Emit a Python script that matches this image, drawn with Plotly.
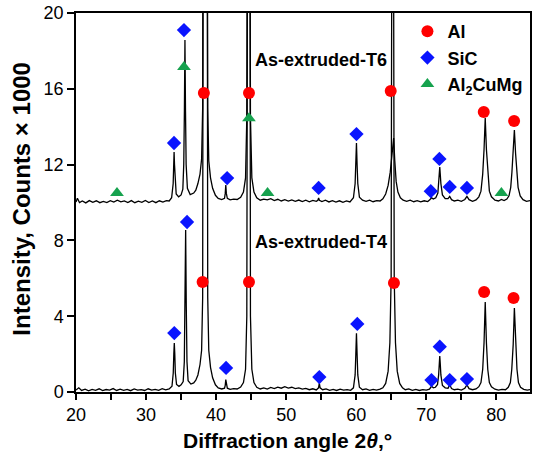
import plotly.graph_objects as go

# ---------------- data ----------------
# As-extruded-T4 diffraction profile (2theta in degrees, counts x1000)
t4_angle = [20.0, 20.4, 20.8, 21.3, 21.8, 22.3, 22.8, 23.3, 23.8, 24.3, 24.8, 25.3, 25.8, 26.3, 26.8,
            27.3, 27.8, 28.3, 28.8, 29.3, 29.8, 30.3, 30.8, 31.3, 31.8, 32.3, 32.8, 33.3,
            33.7, 33.88, 33.96, 34.03, 34.10, 34.18, 34.35, 34.7, 35.0,
            35.3, 35.46, 35.56, 35.65, 35.74, 35.84, 36.0, 36.4, 36.8, 37.1, 37.4, 37.7, 37.93,
            38.08, 38.16, 38.44, 38.72, 38.80, 38.95, 39.2, 39.5, 39.9, 40.3, 40.8, 41.2,
            41.30, 41.38, 41.46, 41.6, 42.0, 42.5, 43.0, 43.5, 43.9, 44.2,
            44.38, 44.46, 44.64, 44.82, 44.90, 45.1, 45.4, 45.8, 46.3, 46.8, 47.3, 47.8, 48.3,
            48.8, 49.3, 49.8, 50.3, 50.8, 51.3, 51.8, 52.3, 52.8, 53.3, 53.8, 54.3,
            54.62, 54.73, 54.84, 55.2, 55.7, 56.2, 56.7, 57.2, 57.7, 58.2, 58.7, 59.2,
            59.6, 59.84, 59.94, 60.03, 60.12, 60.22, 60.45, 60.9, 61.4, 61.9, 62.4, 62.9, 63.4,
            63.8, 64.2, 64.55, 64.8, 64.98, 65.08, 65.2, 65.32, 65.42, 65.6, 65.85, 66.2, 66.6,
            67.0, 67.5, 68.0, 68.5, 69.0, 69.5, 70.0, 70.45, 70.74, 71.0, 71.3,
            71.6, 71.76, 71.85, 71.92, 71.99, 72.08, 72.3, 72.7, 73.1, 73.34, 73.6, 74.0, 74.5,
            75.0, 75.5, 75.8, 76.1, 76.6, 77.1, 77.5, 77.8, 78.05, 78.24, 78.41, 78.58, 78.77,
            79.0, 79.3, 79.8, 80.3, 80.8, 81.3, 81.7, 82.0, 82.2, 82.4, 82.57, 82.74, 82.94,
            83.15, 83.45, 83.9, 84.4, 84.8]
t4_counts = [0.10, 0.22, 0.08, 0.15, 0.06, 0.14, 0.09, 0.17, 0.07, 0.13, 0.10, 0.18, 0.08, 0.15, 0.09,
             0.14, 0.07, 0.16, 0.10, 0.13, 0.08, 0.17, 0.10, 0.14, 0.09, 0.18, 0.11, 0.16,
             0.30, 1.0, 2.0, 2.59, 2.0, 1.0, 0.40, 0.30, 0.38,
             0.55, 1.6, 4.5, 8.55, 4.5, 1.6, 0.6, 0.42, 0.48, 0.62, 0.90, 1.45, 2.2,
             5.0, 30, 60, 30, 5.0, 2.2, 1.3, 0.75, 0.38, 0.22, 0.16, 0.20,
             0.35, 0.65, 0.35, 0.20, 0.14, 0.18, 0.16, 0.26, 0.50, 1.2,
             4.0, 30, 60, 30, 4.0, 1.2, 0.5, 0.25, 0.16, 0.22, 0.15, 0.24, 0.18,
             0.26, 0.20, 0.28, 0.21, 0.25, 0.18, 0.22, 0.15, 0.19, 0.12, 0.17, 0.11,
             0.22, 0.47, 0.22, 0.12, 0.16, 0.09, 0.14, 0.08, 0.15, 0.10, 0.13, 0.09,
             0.22, 0.9, 2.0, 3.1, 2.0, 0.9, 0.25, 0.12, 0.16, 0.09, 0.14, 0.10, 0.15,
             0.22, 0.45, 1.1, 2.6, 6.0, 25, 60, 25, 6.0, 2.6, 1.1, 0.45, 0.22,
             0.12, 0.16, 0.09, 0.14, 0.08, 0.13, 0.10, 0.15, 0.30, 0.22, 0.25,
             0.40, 0.9, 1.5, 1.9, 1.5, 0.9, 0.35, 0.22, 0.20, 0.38, 0.18, 0.12, 0.15,
             0.10, 0.20, 0.37, 0.18, 0.12, 0.16, 0.28, 0.5, 1.2, 2.6, 4.75, 2.6, 1.2,
             0.5, 0.28, 0.15, 0.10, 0.14, 0.12, 0.25, 0.5, 1.2, 2.5, 4.43, 2.5, 1.2,
             0.5, 0.25, 0.14, 0.10, 0.13]

# As-extruded-T6 diffraction profile (offset pattern drawn around 10)
t6_angle = [20.0, 20.2, 20.5, 20.9, 21.4, 21.9, 22.4, 22.9, 23.4, 23.9, 24.4, 24.9, 25.4, 25.9, 26.4,
            26.9, 27.4, 27.9, 28.4, 28.9, 29.4, 29.9, 30.4, 30.9, 31.4, 31.9, 32.4, 32.9, 33.3,
            33.65, 33.87, 33.95, 34.00, 34.06, 34.15, 34.3, 34.65, 35.0,
            35.25, 35.38, 35.47, 35.55, 35.63, 35.72, 35.9, 36.3, 36.8, 37.1, 37.4, 37.7, 37.93,
            38.08, 38.16, 38.44, 38.72, 38.80, 38.95, 39.2, 39.5, 39.9, 40.3, 40.8, 41.2,
            41.30, 41.38, 41.46, 41.6, 42.0, 42.5, 43.0, 43.5, 43.9, 44.2,
            44.38, 44.46, 44.64, 44.82, 44.90, 45.1, 45.4, 45.8, 46.3, 46.8, 47.3, 47.8, 48.3,
            48.8, 49.3, 49.8, 50.3, 50.8, 51.3, 51.8, 52.3, 52.8, 53.3, 53.8, 54.3,
            54.52, 54.63, 54.74, 55.1, 55.6, 56.1, 56.6, 57.1, 57.6, 58.1, 58.6, 59.1,
            59.6, 59.84, 59.94, 60.03, 60.12, 60.22, 60.45, 60.9, 61.4, 61.9, 62.4, 62.9, 63.4,
            63.8, 64.2, 64.55, 64.85, 65.1, 65.34, 65.5, 65.7, 65.95, 66.3, 66.7,
            67.2, 67.7, 68.2, 68.7, 69.2, 69.7, 70.2, 70.5, 70.74, 71.0, 71.35,
            71.65, 71.78, 71.86, 71.92, 71.99, 72.08, 72.3, 72.7, 73.1, 73.34, 73.6, 74.0, 74.5,
            75.0, 75.5, 75.8, 76.1, 76.6, 77.1, 77.5, 77.8, 78.05, 78.24, 78.41, 78.58, 78.77,
            79.0, 79.3, 79.8, 80.3, 80.72, 81.1, 81.5, 81.8, 82.05, 82.22, 82.4, 82.57, 82.74,
            82.92, 83.1, 83.4, 83.8, 84.3, 84.8]
t6_counts = [10.02, 10.22, 10.00, 10.08, 9.98, 10.10, 10.01, 10.09, 9.99, 10.06, 10.00, 10.10, 10.02, 10.12, 10.03,
             10.08, 10.00, 10.10, 9.99, 10.07, 10.01, 10.11, 10.00, 10.08, 9.99, 10.09, 10.02, 10.10, 10.08,
             10.25, 11.0, 12.0, 12.66, 12.0, 11.0, 10.45, 10.30, 10.40,
             10.7, 12.0, 14.8, 18.58, 14.8, 12.0, 10.75, 10.42, 10.50, 10.65, 11.0, 11.5, 12.3,
             15.0, 30, 60, 30, 15.0, 12.2, 11.3, 10.75, 10.38, 10.22, 10.15, 10.22,
             10.48, 10.92, 10.48, 10.22, 10.14, 10.18, 10.16, 10.28, 10.55, 11.3,
             14.5, 30, 60, 30, 14.5, 11.3, 10.55, 10.25, 10.12, 10.18, 10.14, 10.20, 10.10,
             10.17, 10.08, 10.15, 10.07, 10.14, 10.06, 10.13, 10.05, 10.12, 10.04, 10.11, 10.06,
             10.12, 10.24, 10.12, 10.05, 10.12, 10.03, 10.10, 10.02, 10.09, 10.01, 10.08, 10.03,
             10.25, 11.0, 12.0, 13.14, 12.0, 11.0, 10.28, 10.12, 10.06, 10.12, 10.04, 10.10, 10.08,
             10.2, 10.45, 10.9, 11.6, 12.4, 13.4, 12.2, 11.1, 10.55, 10.25, 10.12,
             10.06, 10.12, 10.04, 10.10, 10.03, 10.09, 10.05, 10.14, 10.25, 10.18, 10.25,
             10.5, 11.0, 11.5, 11.87, 11.5, 11.0, 10.4, 10.2, 10.2, 10.32, 10.15, 10.08, 10.12,
             10.06, 10.16, 10.32, 10.15, 10.06, 10.14, 10.3, 10.6, 11.5, 12.8, 14.46, 12.8, 11.5,
             10.6, 10.3, 10.12, 10.08, 10.16, 10.1, 10.18, 10.35, 10.8, 11.6, 12.6, 13.83, 12.6,
             11.6, 10.8, 10.35, 10.15, 10.06, 10.1]

# Phase markers
al_t4_x = [38.07, 44.69, 65.38, 78.25, 82.45]
al_t4_y = [5.8, 5.8, 5.75, 5.28, 4.96]
al_t6_x = [38.25, 44.69, 64.92, 78.2, 82.53]
al_t6_y = [15.78, 15.78, 15.88, 14.78, 14.3]

sic_t4_x = [34.03, 35.85, 41.42, 54.73, 60.15, 70.74, 71.92, 73.34, 75.8]
sic_t4_y = [3.11, 8.97, 1.27, 0.79, 3.59, 0.63, 2.39, 0.63, 0.68]
sic_t6_x = [33.99, 35.41, 41.57, 54.63, 60.03, 70.64, 71.87, 73.34, 75.8]
sic_t6_y = [13.14, 19.1, 11.29, 10.77, 13.61, 10.6, 12.3, 10.82, 10.77]

al2cumg_t6_x = [25.85, 35.41, 44.69, 47.34, 80.72]
al2cumg_t6_y = [10.5, 17.15, 14.44, 10.5, 10.5]

x_ticks = [20, 30, 40, 50, 60, 70, 80]
y_ticks = [0, 4, 8, 12, 16, 20]

# ---------------- figure ----------------
FONT = "Liberation Sans, Arial, Helvetica, sans-serif"
fig = go.Figure()

for xs, ys in [(t4_angle, t4_counts), (t6_angle, t6_counts)]:
    fig.add_trace(go.Scatter(x=xs, y=ys, mode="lines",
                             line=dict(color="black", width=1.3),
                             showlegend=False, hoverinfo="skip"))

fig.add_trace(go.Scatter(x=al_t4_x + al_t6_x, y=al_t4_y + al_t6_y, mode="markers", name="Al",
                         marker=dict(symbol="circle", size=12, color="#ff0000")))
fig.add_trace(go.Scatter(x=sic_t4_x + sic_t6_x, y=sic_t4_y + sic_t6_y, mode="markers", name="SiC",
                         marker=dict(symbol="diamond", size=11, color="#0a14ff")))
fig.add_trace(go.Scatter(x=al2cumg_t6_x, y=al2cumg_t6_y, mode="markers", name="Al<sub>2</sub>CuMg",
                         marker=dict(symbol="triangle-up", size=12, color="#16a24e")))

fig.add_annotation(x=45.3, y=17.5, xref="x", yref="y", text="<b>As-extruded-T6</b>",
                   showarrow=False, xanchor="left", yanchor="middle",
                   font=dict(family=FONT, size=18, color="black"))
fig.add_annotation(x=45.3, y=7.9, xref="x", yref="y", text="<b>As-extruded-T4</b>",
                   showarrow=False, xanchor="left", yanchor="middle",
                   font=dict(family=FONT, size=18, color="black"))

# axis titles placed as paper annotations to match the reference positions
fig.add_annotation(x=0.465, y=-0.127, xref="paper", yref="paper",
                   text="<b>Diffraction angle 2<i>θ</i>,°</b>", showarrow=False,
                   xanchor="center", yanchor="middle",
                   font=dict(family=FONT, size=21, color="black"))
fig.add_annotation(x=-0.119, y=0.51, xref="paper", yref="paper",
                   text="<b>Intensity, Counts × 1000</b>", showarrow=False, textangle=-90,
                   xanchor="center", yanchor="middle",
                   font=dict(family=FONT, size=24, color="black"))

fig.update_layout(
    width=533, height=458,
    margin=dict(l=76, r=1, t=13, b=66),
    paper_bgcolor="white", plot_bgcolor="white",
    font=dict(family=FONT, size=18, color="black"),
    legend=dict(x=0.73, y=1.0, xanchor="left", yanchor="top",
                bgcolor="rgba(0,0,0,0)", borderwidth=0,
                font=dict(family=FONT, size=18, color="black", weight="bold"),
                tracegroupgap=0),
)
fig.update_xaxes(range=[20, 84.8], tickvals=x_ticks, ticks="outside", ticklen=6, tickwidth=1.5,
                 minor=dict(dtick=5, tick0=20, ticks="outside", ticklen=6, tickwidth=1.5, tickcolor="black"),
                 showline=True, linecolor="black", linewidth=1.5, mirror=True, showgrid=False,
                 zeroline=False, tickcolor="black",
                 tickfont=dict(family=FONT, size=18))
fig.update_yaxes(range=[0, 20], tickvals=y_ticks, ticks="outside", ticklen=7, tickwidth=1.5,
                 showline=True, linecolor="black", linewidth=1.5, mirror=True, showgrid=False,
                 zeroline=False, tickcolor="black",
                 tickfont=dict(family=FONT, size=18))

fig.write_html("out.html")
